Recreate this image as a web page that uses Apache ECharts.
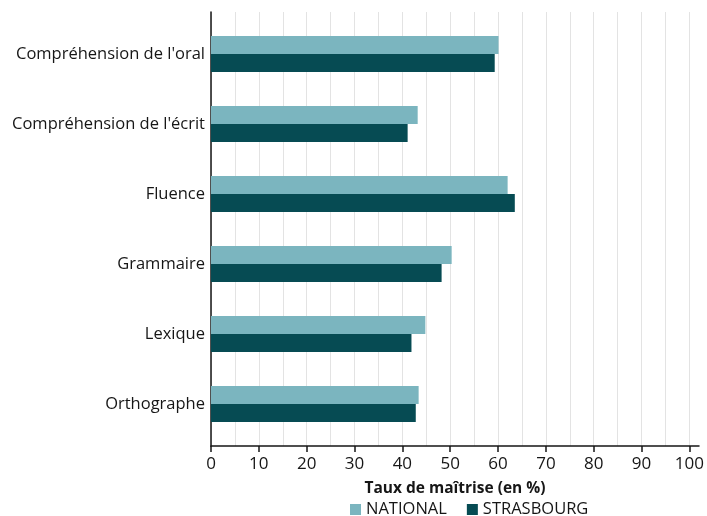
<!DOCTYPE html>
<html>
<head>
<meta charset="utf-8">
<script src="https://cdn.jsdelivr.net/npm/echarts@6/dist/echarts.min.js"></script>
<style>
  html, body { margin: 0; padding: 0; background: #ffffff; }
  #chart { width: 707px; height: 516px; }
</style>
</head>
<body>
<div id="chart"></div>
<script>
// Taux de maîtrise par domaine : national vs Strasbourg
const categories = [
  "Compréhension de l'oral",
  "Compréhension de l'écrit",
  "Fluence",
  "Grammaire",
  "Lexique",
  "Orthographe"
];
const nationalValues = [60.1, 43.2, 62.0, 50.3, 44.8, 43.4];
const strasbourgValues = [59.3, 41.1, 63.5, 48.2, 41.9, 42.8];
const xTickValues = [0, 10, 20, 30, 40, 50, 60, 70, 80, 90, 100];
const seriesNames = ['NATIONAL', 'STRASBOURG'];

const FONT = 'Open Sans';
const TEXT = '#161616';
const xMax = 102;

const chart = echarts.init(document.getElementById('chart'), null, { renderer: 'canvas' });

chart.setOption({
  animation: false,
  backgroundColor: '#ffffff',
  textStyle: { fontFamily: FONT },
  grid: [
    // frame: axes and grid lines
    { left: 211, right: 8, top: 12, bottom: 70, containLabel: false },
    // bars
    { left: 211, right: 8, top: 19, bottom: 77, containLabel: false }
  ],
  legend: {
    data: seriesNames,
    top: 499,
    left: 345,
    padding: [2, 5, 2, 5],
    icon: 'rect',
    itemWidth: 11,
    itemHeight: 11,
    itemGap: 20,
    textStyle: { fontFamily: FONT, fontSize: 16.5, color: TEXT }
  },
  xAxis: [
    {
      // grid lines every 5 and the base line
      gridIndex: 0,
      type: 'value',
      position: 'bottom',
      min: 0,
      max: xMax,
      interval: 5,
      axisLine: { show: true, lineStyle: { color: TEXT, width: 1.5 } },
      axisTick: { show: false },
      axisLabel: { show: false },
      splitLine: { show: true, showMaxLine: false, lineStyle: { color: '#e3e3e3', width: 1 } }
    },
    {
      // ticks and labels every 10
      gridIndex: 0,
      type: 'value',
      position: 'bottom',
      min: 0,
      max: xMax,
      name: 'Taux de maîtrise (en %)',
      nameLocation: 'middle',
      nameGap: 35,
      nameTextStyle: { fontFamily: FONT, fontSize: 15.5, fontWeight: 'bold', color: TEXT },
      axisLine: { show: false },
      axisTick: { show: true, length: 6, customValues: xTickValues, lineStyle: { color: TEXT, width: 1.5 } },
      axisLabel: {
        customValues: xTickValues,
        margin: 10,
        fontFamily: FONT,
        fontSize: 17,
        color: TEXT
      },
      splitLine: { show: false }
    },
    {
      gridIndex: 1,
      type: 'value',
      min: 0,
      max: xMax,
      show: false
    }
  ],
  yAxis: [
    {
      gridIndex: 0,
      type: 'value',
      min: 0,
      max: 1,
      axisLine: { show: true, lineStyle: { color: TEXT, width: 1.5 } },
      axisTick: { show: false },
      axisLabel: { show: false },
      splitLine: { show: false }
    },
    {
      gridIndex: 1,
      type: 'category',
      data: categories,
      inverse: true,
      axisLine: { show: false },
      axisTick: { show: false },
      axisLabel: { margin: 6, fontFamily: FONT, fontSize: 16.5, color: TEXT },
      splitLine: { show: false }
    }
  ],
  series: [
    {
      name: seriesNames[0],
      type: 'bar',
      xAxisIndex: 2,
      yAxisIndex: 1,
      data: nationalValues,
      barWidth: 18,
      barGap: '0%',
      itemStyle: { color: '#7bb5bf' }
    },
    {
      name: seriesNames[1],
      type: 'bar',
      xAxisIndex: 2,
      yAxisIndex: 1,
      data: strasbourgValues,
      barWidth: 18,
      barGap: '0%',
      itemStyle: { color: '#064b53' }
    }
  ]
});
</script>
</body>
</html>
